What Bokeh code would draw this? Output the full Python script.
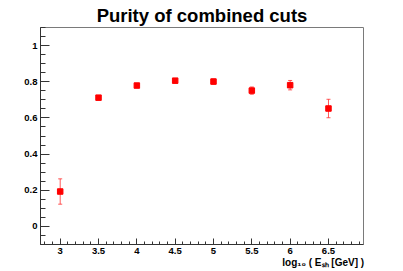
from bokeh.plotting import figure
from bokeh.models import (ColumnDataSource, Whisker, TeeHead, FixedTicker,
                          NumeralTickFormatter, Range1d)
from bokeh.embed import file_html
from bokeh.resources import INLINE

# ---- data ----
log_e = [3.0, 3.5, 4.0, 4.5, 5.0, 5.5, 6.0, 6.5]
purity = [0.193, 0.712, 0.779, 0.806, 0.801, 0.751, 0.781, 0.652]
purity_err = [0.070, 0.010, 0.008, 0.008, 0.014, 0.020, 0.026, 0.051]
x_major = [3.0, 3.5, 4.0, 4.5, 5.0, 5.5, 6.0, 6.5]
y_major = [0.0, 0.2, 0.4, 0.6, 0.8, 1.0]
title_text = "Purity of combined cuts"
x_label = "log\u2081\u2080 ( E\u209b\u2095 [GeV] )"

src = ColumnDataSource(dict(
    x=log_e, y=purity,
    lo=[v - e for v, e in zip(purity, purity_err)],
    hi=[v + e for v, e in zip(purity, purity_err)],
))

FONT = "Liberation Sans"

p = figure(width=400, height=271, output_backend="svg", toolbar_location=None,
           x_range=Range1d(2.743, 6.957), y_range=Range1d(-0.1, 1.1),
           min_border_left=40, min_border_right=37, min_border_top=26,
           min_border_bottom=27, title=title_text)
p.background_fill_color = "white"
p.border_fill_color = "white"
p.outline_line_color = "#7a7a7a"
p.outline_line_width = 1
p.xgrid.visible = False
p.ygrid.visible = False

p.title.text_font = FONT
p.title.text_font_style = "bold"
p.title.text_font_size = "18.5px"
p.title.align = "center"
p.title.standoff = 4
p.title.text_color = "black"

x_minor = [round(2.8 + 0.1 * i, 2) for i in range(42)]
y_minor = [round(-0.1 + 0.05 * i, 3) for i in range(25)]

p.xaxis.ticker = FixedTicker(ticks=x_major, minor_ticks=x_minor)
p.yaxis.ticker = FixedTicker(ticks=y_major, minor_ticks=y_minor)
p.xaxis.formatter = NumeralTickFormatter(format="0.[0]")
p.yaxis.formatter = NumeralTickFormatter(format="0.[0]")

for ax in (p.xaxis, p.yaxis):
    ax.axis_line_color = "#333333"
    ax.major_tick_line_color = "#333333"
    ax.minor_tick_line_color = "#333333"
    ax.major_tick_out = 0
    ax.minor_tick_out = 0
    ax.major_label_text_font = FONT
    ax.major_label_text_font_style = "bold"
    ax.major_label_text_font_size = "9.5px"
    ax.major_label_text_color = "black"

p.xaxis.major_tick_in = 6
p.xaxis.minor_tick_in = 3
p.yaxis.major_tick_in = 9
p.yaxis.minor_tick_in = 5
p.xaxis.major_label_standoff = 3
p.yaxis.major_label_standoff = 3

# axis label is aligned to the panel end; trailing no-break spaces pull it
# back so that it ends at the frame's right edge, as in the reference
p.xaxis.axis_label = x_label + "\u00a0" * 29
p.xaxis.axis_label_text_font = FONT
p.xaxis.axis_label_text_font_style = "bold"
p.xaxis.axis_label_text_font_size = "10px"
p.xaxis.axis_label_text_color = "black"
p.xaxis.axis_label_standoff = 0
p.xaxis.axis_label_align = "end"

# error bars
whisk = Whisker(source=src, base="x", upper="hi", lower="lo", dimension="height",
                line_color="#ff3030", line_alpha=0.8, line_width=1,
                upper_head=TeeHead(size=4, line_color="#ff3030", line_alpha=0.8),
                lower_head=TeeHead(size=4, line_color="#ff3030", line_alpha=0.8))
p.add_layout(whisk)

p.scatter("x", "y", source=src, marker="square", size=5.5,
          fill_color="red", line_color="red")

open("out.html", "w").write(file_html(p, INLINE))
